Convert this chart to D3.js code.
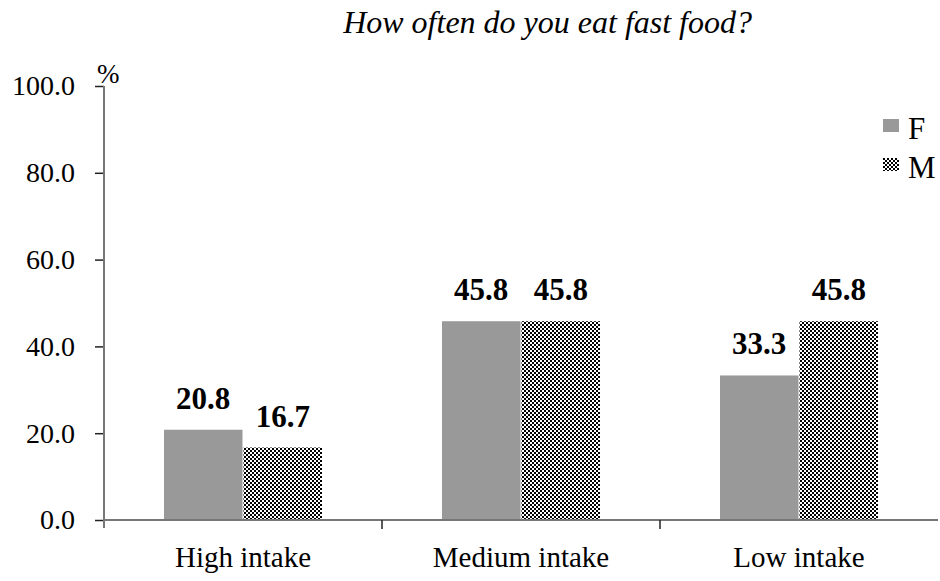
<!DOCTYPE html>
<html>
<head>
<meta charset="utf-8">
<script src="https://cdn.jsdelivr.net/npm/d3@7"></script>
<style>
  html, body { margin: 0; padding: 0; background: #fff; }
  svg { display: block; }
  text { font-family: "Liberation Serif", "Times New Roman", serif; fill: #000; }
</style>
</head>
<body>
<svg id="chart" width="940" height="581"></svg>
<script>
// Survey results: share of respondents (%) by fast-food intake level and sex
const categories = ["High intake", "Medium intake", "Low intake"];
const seriesNames = ["F", "M"];
const valuesF = [20.8, 45.8, 33.3];
const valuesM = [16.7, 45.8, 45.8];
const yTicks = [0, 20, 40, 60, 80, 100];
const titleText = "How often do you eat fast food?";
const unitLabel = "%";

const svg = d3.select("#chart");
const margin = { left: 104, right: 2, top: 86, bottom: 61 };
const W = 940, H = 581;

// checkerboard fill for the M series
const defs = svg.append("defs");
const pat = defs.append("pattern")
  .attr("id", "checker")
  .attr("patternUnits", "userSpaceOnUse")
  .attr("width", 4).attr("height", 4);
pat.append("rect").attr("width", 4).attr("height", 4).attr("fill", "#fff");
pat.append("rect").attr("x", 0).attr("y", 0).attr("width", 2).attr("height", 2).attr("fill", "#000");
pat.append("rect").attr("x", 2).attr("y", 2).attr("width", 2).attr("height", 2).attr("fill", "#000");

const fills = { F: "#999999", M: "url(#checker)" };

const x0 = d3.scaleBand()
  .domain(categories)
  .range([margin.left, W - margin.right])
  .paddingInner(0).paddingOuter(0);

const x1 = d3.scaleBand()
  .domain(seriesNames)
  .range([60, x0.bandwidth() - 60])
  .paddingInner(0.013);

const y = d3.scaleLinear()
  .domain([0, 100])
  .range([H - margin.bottom, margin.top]);

const data = categories.map((c, i) => ({
  category: c,
  values: [{ key: "F", value: valuesF[i] }, { key: "M", value: valuesM[i] }]
}));

// bars
const groups = svg.append("g").selectAll("g")
  .data(data).join("g")
  .attr("transform", d => `translate(${x0(d.category)},0)`);

groups.selectAll("rect")
  .data(d => d.values).join("rect")
  .attr("x", d => x1(d.key))
  .attr("y", d => y(d.value))
  .attr("width", x1.bandwidth())
  .attr("height", d => y(0) - y(d.value))
  .attr("fill", d => fills[d.key]);

// value labels
groups.selectAll("text.val")
  .data(d => d.values).join("text")
  .attr("class", "val")
  .attr("x", d => x1(d.key) + x1.bandwidth() / 2)
  .attr("y", d => y(d.value) - 21)
  .attr("text-anchor", "middle")
  .attr("font-size", 31)
  .attr("font-weight", "bold")
  .text(d => d.value.toFixed(1));

// y axis
const yAxis = d3.axisLeft(y)
  .tickValues(yTicks)
  .tickSize(9)
  .tickPadding(20)
  .tickFormat(d => d3.format(".1f")(d));
const gy = svg.append("g")
  .attr("transform", `translate(${margin.left},0)`)
  .call(yAxis);
gy.select(".domain").remove();
gy.append("line")
  .attr("x1", 0).attr("x2", 0)
  .attr("y1", y(100)).attr("y2", y(0) + 8)
  .attr("stroke", "#777").attr("stroke-width", 2);
gy.selectAll(".tick line").attr("stroke", "#222").attr("stroke-width", 1.5);
gy.selectAll(".tick text")
  .attr("font-size", 28)
  .attr("font-family", "Liberation Serif, Times New Roman, serif")
  .attr("fill", "#000");

// x axis
const gx = svg.append("g")
  .attr("transform", `translate(0,${y(0)})`);
gx.append("line")
  .attr("x1", margin.left).attr("x2", W - margin.right)
  .attr("stroke", "#777").attr("stroke-width", 2);
const boundaries = categories.map(c => x0(c)).concat([x0(categories[categories.length - 1]) + x0.bandwidth()]);
gx.selectAll("line.bt")
  .data(boundaries.slice(1, -1)).join("line")
  .attr("class", "bt")
  .attr("x1", d => d).attr("x2", d => d)
  .attr("y1", 0).attr("y2", 9)
  .attr("stroke", "#222").attr("stroke-width", 1.5);
gx.selectAll("text")
  .data(categories).join("text")
  .attr("x", d => x0(d) + x0.bandwidth() / 2)
  .attr("y", 47)
  .attr("text-anchor", "middle")
  .attr("font-size", 29)
  .text(d => d);

// unit label
svg.append("text")
  .attr("x", 97)
  .attr("y", 83)
  .attr("font-size", 27)
  .text(unitLabel);

// title
svg.append("text")
  .attr("x", 752)
  .attr("y", 33)
  .attr("text-anchor", "end")
  .attr("font-size", 32)
  .attr("font-style", "italic")
  .text(titleText);

// legend
const legend = svg.append("g").attr("transform", "translate(883,119)");
const li = legend.selectAll("g").data(seriesNames).join("g")
  .attr("transform", (d, i) => `translate(0,${i * 39})`);
li.append("rect")
  .attr("width", 16).attr("height", 13)
  .attr("fill", d => fills[d]);
li.append("text")
  .attr("x", 25).attr("y", 20)
  .attr("font-size", 31)
  .text(d => d);
</script>
</body>
</html>
